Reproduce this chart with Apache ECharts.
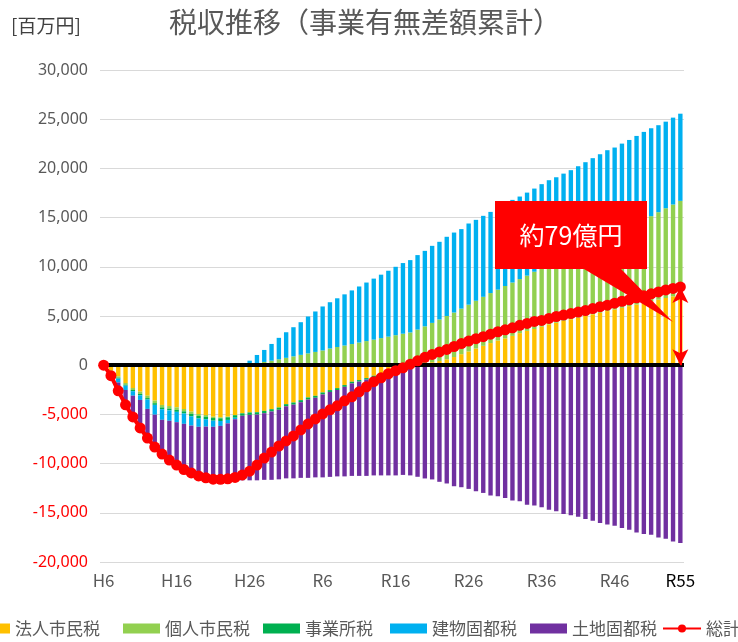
<!DOCTYPE html>
<html><head><meta charset="utf-8">
<script src="https://cdn.jsdelivr.net/npm/echarts@6/dist/echarts.min.js"></script>
<style>html,body{margin:0;padding:0;background:#fff}#c{width:738px;height:642px}</style>
</head><body><div id="c"></div>
<script>
// Fiscal years H6 .. R55
const categories = ['H6','H7','H8','H9','H10','H11','H12','H13','H14','H15','H16','H17','H18','H19','H20','H21','H22','H23','H24','H25','H26','H27','H28','H29','H30',
'R1','R2','R3','R4','R5','R6','R7','R8','R9','R10','R11','R12','R13','R14','R15','R16','R17','R18','R19','R20','R21','R22','R23','R24','R25','R26','R27','R28','R29','R30',
'R31','R32','R33','R34','R35','R36','R37','R38','R39','R40','R41','R42','R43','R44','R45','R46','R47','R48','R49','R50','R51','R52','R53','R54','R55'];
const xTickLabels = ['H6','H16','H26','R6','R16','R26','R36','R46','R55'];
const yTicks = [-20000,-15000,-10000,-5000,0,5000,10000,15000,20000,25000,30000];

// 法人市民税
const houjin = [0,-560,-1130,-1810,-2320,-2690,-3100,-3600,-4040,-4150,-4280,-4450,-4720,-4960,-5060,-5230,-5300,-5230,-5060,-4890,
-4800,-4780,-4640,-4470,-4300,-3960,-3790,-3550,-3280,-3110,-2770,-2530,-2330,-2020,-1680,-1510,-1310,-1070,-840,-630,
-390,-220,-80,60,180,300,430,600,830,1120,1400,1700,1970,2250,2510,2730,2980,3260,3490,3680,
3910,4150,4320,4500,4670,4830,5000,5170,5330,5500,5660,5830,6000,6160,6330,6500,6660,6830,7000,7200];
// 個人市民税
const kojin = [0,-60,-150,-170,-200,-230,-240,-260,-250,-260,-260,-240,-230,-200,-170,-140,-100,-60,-20,20,
80,200,330,460,600,750,900,1050,1200,1350,1500,1700,1850,2000,2150,2300,2450,2600,2750,2900,
3050,3200,3330,3560,3770,4000,4220,4400,4520,4630,4750,4850,4980,5080,5170,5320,5420,5490,5610,5820,
5970,6100,6280,6450,6630,6820,7000,7180,7370,7550,7740,7920,8100,8290,8470,8650,8890,9120,9330,9500];
// 事業所税
const jigyosho = [0,-40,-80,-100,-120,-140,-150,-170,-180,-190,-200,-220,-240,-250,-260,-270,-270,-270,-260,-250,
-250,-240,-240,-230,-230,-220,-220,-210,-210,-200,-200,-190,-190,-180,-170,-160,-150,-140,-120,-100,
-80,-60,-40,0,0,0,0,0,0,0,0,0,0,0,0,0,0,0,0,0,
0,0,0,0,0,0,0,0,0,0,0,0,0,0,0,0,0,0,0,0];
// 建物固都税
const tatemono = [0,-250,-390,-440,-460,-470,-950,-1000,-1080,-1050,-1050,-1050,-950,-850,-750,-620,-500,-350,-150,100,
380,840,1220,1700,2180,2600,2960,3320,3750,4110,4470,4700,4950,5200,5450,5700,5950,6200,6450,6700,
6950,7180,7350,7570,7670,7830,7890,8050,8130,8080,8250,8220,8230,8250,8280,8310,8400,8390,8440,8450,
8520,8550,8500,8520,8520,8570,8630,8690,8740,8800,8720,8770,8790,8850,8910,8930,8840,8800,8830,8860];
// 土地固都税
const tochi = [0,-300,-850,-1510,-2160,-2850,-2960,-3290,-3480,-3990,-4360,-4700,-4930,-5120,-5340,-5490,-5630,-5890,-6260,-6560,
-6650,-6680,-6770,-6950,-7070,-7320,-7490,-7690,-7960,-8090,-8430,-8630,-8780,-9100,-9400,-9580,-9790,-9990,-10240,-10470,
-10730,-10870,-11080,-11340,-11510,-11610,-11850,-12020,-12300,-12400,-12570,-12810,-12980,-13250,-13320,-13490,-13760,-13830,-14170,-14270,
-14440,-14680,-14830,-15120,-15250,-15390,-15630,-15800,-16040,-16200,-16310,-16550,-16720,-16990,-17160,-17230,-17500,-17630,-17910,-18080];
// 総計
const total = [0,-1070,-2600,-4030,-5260,-6380,-7400,-8320,-9030,-9640,-10150,-10600,-10950,-11250,-11450,-11580,-11600,-11550,-11400,-11150,
-10770,-10150,-9440,-8830,-8210,-7700,-7190,-6580,-5970,-5460,-4950,-4540,-4130,-3620,-3210,-2700,-2190,-1680,-1280,-870,
-560,-260,100,450,800,1100,1350,1600,1900,2200,2450,2700,2900,3150,3400,3600,3800,4050,4250,4450,
4550,4750,4950,5100,5250,5400,5550,5750,5950,6100,6300,6500,6650,6850,7050,7250,7450,7650,7800,7950];

const seriesNames = ['法人市民税','個人市民税','事業所税','建物固都税','土地固都税'];
const seriesData = [houjin, kojin, jigyosho, tatemono, tochi];
const seriesColors = ['#FFC000','#92D050','#00B050','#00B0F0','#7030A0'];
const totalName = '総計';
const FONT = "'Noto Sans CJK JP', 'Noto Sans', sans-serif";
const lastCat = categories[categories.length - 1];
const lastTotal = total[total.length - 1];

const chart = echarts.init(document.getElementById('c'), null, {renderer: 'canvas'});

const barSeries = seriesNames.map((n, k) => {
  const s = {
    name: n, type: 'bar', stack: 'tax', data: seriesData[k], barWidth: '60%',
    itemStyle: {color: seriesColors[k]}, z: 2,
    emphasis: {disabled: true}
  };
  if (k === seriesNames.length - 1) {
    s.markLine = {
      silent: true, symbol: ['none','none'], label: {show: false},
      lineStyle: {color: '#000', width: 4, type: 'solid'},
      emphasis: {disabled: true},
      data: [{yAxis: 0}]
    };
  }
  return s;
});

// legend entries placed like the original (one legend per entry)
const legendLefts = [-32, 118, 258, 385, 525, 662];
const legendNames = seriesNames.concat([totalName]);
const legends = legendNames.map((n, k) => ({
  left: legendLefts[k], bottom: 0, padding: 5, itemWidth: k === 5 ? 38 : 37, itemHeight: 10,
  textStyle: {fontSize: 17, color: '#595959', fontFamily: FONT},
  data: [k === 5 ? {name: n} : {name: n, icon: 'rect'}]
}));
legends[5].padding = [5, 0, 5, 0];

const option = {
  animation: false,
  textStyle: {fontFamily: FONT},
  title: {
    text: '税収推移（事業有無差額累計）', left: 164, top: 3,
    textStyle: {fontSize: 28, fontWeight: 'normal', color: '#595959', fontFamily: FONT}
  },
  grid: {left: 100, right: 54, top: 70, bottom: 80, containLabel: false},
  legend: legends,
  xAxis: {
    type: 'category', data: categories, boundaryGap: true,
    axisLine: {show: false, onZero: false}, axisTick: {show: false},
    splitLine: {show: false},
    axisLabel: {
      interval: (i, v) => xTickLabels.indexOf(v) >= 0,
      fontSize: 17, margin: 10,
      color: (v) => v === lastCat ? '#000' : '#595959'
    }
  },
  yAxis: {
    type: 'value', min: yTicks[0], max: yTicks[yTicks.length - 1], interval: 5000,
    axisLine: {show: false}, axisTick: {show: false},
    splitLine: {lineStyle: {color: '#D9D9D9', width: 1}},
    axisLabel: {
      fontSize: 16, margin: 12, fontFamily: "'Noto Sans', sans-serif",
      formatter: v => v.toLocaleString('en-US'),
      color: v => Number(v) < 0 ? '#FF0000' : '#595959'
    }
  },
  series: barSeries.concat([{
    name: totalName, type: 'line', data: total, z: 5,
    color: '#FF0000',
    lineStyle: {color: '#FF0000', width: 4},
    itemStyle: {color: '#FF0000'},
    symbol: 'circle', symbolSize: 11, showSymbol: true, showAllSymbol: true,
    emphasis: {disabled: true},
    markLine: {
      silent: true, symbol: ['arrow','arrow'], symbolSize: [12, 16],
      label: {show: false},
      lineStyle: {color: '#FF0000', width: 2, type: 'solid'},
      emphasis: {disabled: true},
      data: [[{coord: [lastCat, lastTotal]}, {coord: [lastCat, 0]}]]
    }
  }]),
  graphic: [
    {type: 'text', left: 11, top: 16, z: 100,
     style: {text: '[百万円]', fontSize: 19, fill: '#404040', fontFamily: FONT}},
    {type: 'polygon', z: 100,
     shape: {points: [[495,201],[647,201],[647,269],[621,269],[673,322],[584,269],[495,269]]},
     style: {fill: '#FF0000'}},
    {type: 'text', z: 101, x: 571, y: 235,
     style: {text: '約79億円', fontSize: 25, fill: '#FFFFFF', fontFamily: FONT, align: 'center', verticalAlign: 'middle'}}
  ]
};
chart.setOption(option);
</script>
</body></html>
